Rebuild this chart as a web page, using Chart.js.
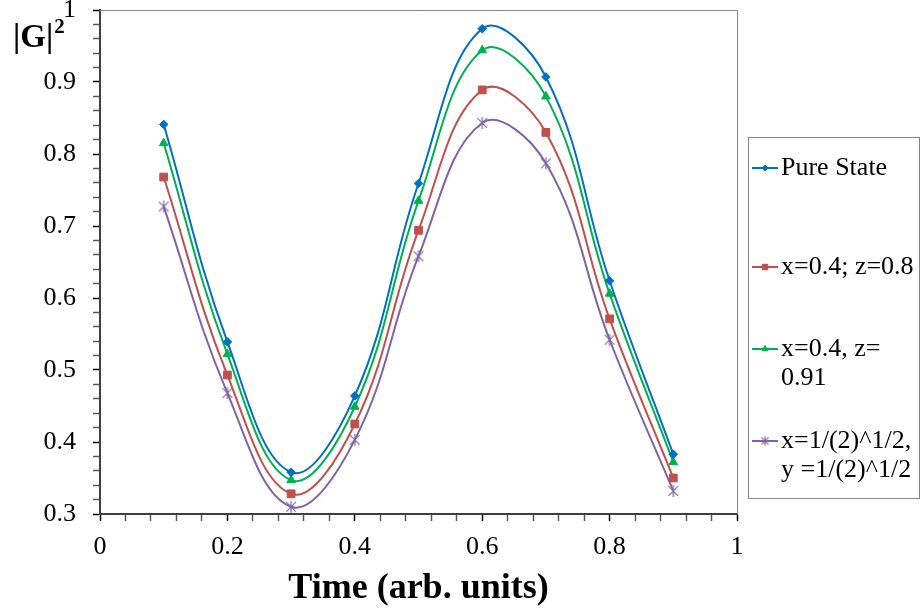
<!DOCTYPE html>
<html>
<head>
<meta charset="utf-8">
<script src="https://cdn.jsdelivr.net/npm/chart.js@4.4.1/dist/chart.umd.min.js"></script>
<style>
	html, body { margin: 0; padding: 0; background: #fff; }
	#wrap { position: relative; width: 922px; height: 612px; }
</style>
</head>
<body>
<div id="wrap"><canvas id="g_chart" width="922" height="612"></canvas></div>
<script>
// data
const time_list = [0.1, 0.2, 0.3, 0.4, 0.5, 0.6, 0.7, 0.8, 0.9];
const pure_list = [0.841, 0.539, 0.358, 0.464, 0.759, 0.974, 0.907, 0.624, 0.383];
const mixed_08_list = [0.768, 0.493, 0.328, 0.425, 0.694, 0.889, 0.830, 0.571, 0.350];
const mixed_091_list = [0.815, 0.522, 0.347, 0.449, 0.735, 0.944, 0.880, 0.606, 0.372];
const sqrt_half_list = [0.727, 0.468, 0.310, 0.403, 0.658, 0.843, 0.787, 0.542, 0.332];

const series_names = [
	["Pure State"],
	["x=0.4; z=0.8"],
	["x=0.4, z=", "0.91"],
	["x=1/(2)^1/2,", "y =1/(2)^1/2"],
];
const y_tick_labels = ["0.3", "0.4", "0.5", "0.6", "0.7", "0.8", "0.9", "1"];
const x_tick_labels = ["0", "0.2", "0.4", "0.6", "0.8", "1"];

const serif = "'Liberation Serif', 'Times New Roman', serif";

// excel style asterisk marker (x with a vertical bar)
function makeStar(size, color) {
	const c = document.createElement("canvas");
	c.width = size;
	c.height = size;
	const g = c.getContext("2d");
	const m = size / 2;
	const r = size / 2 - 1;
	g.strokeStyle = color;
	g.lineWidth = 1.2;
	g.beginPath();
	g.moveTo(m - r * 0.8, m - r * 0.8);
	g.lineTo(m + r * 0.8, m + r * 0.8);
	g.moveTo(m + r * 0.8, m - r * 0.8);
	g.lineTo(m - r * 0.8, m + r * 0.8);
	g.moveTo(m, m - r);
	g.lineTo(m, m + r);
	g.stroke();
	return c;
}
const star_big = makeStar(14, "#8064A2");
const star_small = makeStar(11, "#8064A2");

function toPoints(list) {
	return list.map((v, i) => ({ x: time_list[i], y: v }));
}

function makeSet(label, list, color, style, radius) {
	return {
		label: label,
		data: toPoints(list),
		borderColor: color,
		backgroundColor: color,
		borderWidth: 2,
		pointStyle: style,
		pointRadius: radius,
		pointBorderWidth: 1,
		pointBorderColor: color,
		pointBackgroundColor: color,
		tension: 0.4,
		fill: false,
	};
}

const datasets = [
	makeSet(series_names[0].join(" "), pure_list, "#0070C0", "rectRot", 4.3),
	makeSet(series_names[1].join(" "), mixed_08_list, "#C0504D", "rect", 5.5),
	makeSet(series_names[2].join(" "), mixed_091_list, "#00B050", "triangle", 5),
	makeSet(series_names[3].join(" "), sqrt_half_list, "#8064A2", star_big, 7),
];
const legend_styles = ["rectRot", "rect", "triangle", star_small];

function labelFor(list) {
	return function (value) {
		const s = String(Math.round(value * 100) / 100);
		return list.includes(s) ? s : "";
	};
}

function tickColorFor(list) {
	return function (c) {
		const s = String(Math.round(c.tick.value * 100) / 100);
		return list.includes(s) ? "#000" : "#595959";
	};
}

// frame, y title and legend box
const extrasPlugin = {
	id: "extras",
	beforeDatasetsDraw(chart) {
		const { ctx, chartArea } = chart;
		ctx.save();
		ctx.strokeStyle = "#868686";
		ctx.lineWidth = 1;
		ctx.beginPath();
		ctx.moveTo(chartArea.left, chartArea.top + 0.5);
		ctx.lineTo(chartArea.right + 0.5, chartArea.top + 0.5);
		ctx.lineTo(chartArea.right + 0.5, chartArea.bottom);
		ctx.stroke();
		ctx.restore();
	},
	afterDraw(chart) {
		const ctx = chart.ctx;
		ctx.save();
		ctx.fillStyle = "#000";
		ctx.textBaseline = "alphabetic";
		ctx.textAlign = "left";
		ctx.font = "bold 33px " + serif;
		ctx.fillText("|G|", 13, 47);
		const w = ctx.measureText("|G|").width;
		ctx.font = "bold 21px " + serif;
		ctx.fillText("2", 13 + w + 1, 33);

		// legend
		ctx.strokeStyle = "#868686";
		ctx.lineWidth = 1;
		ctx.strokeRect(748.5, 137.5, 171, 361);
		const rows = [168, 267, 349, 441];
		ctx.font = "26px " + serif;
		ctx.textBaseline = "middle";
		chart.data.datasets.forEach((ds, i) => {
			const y = rows[i];
			ctx.strokeStyle = ds.borderColor;
			ctx.fillStyle = ds.borderColor;
			ctx.lineWidth = 2;
			ctx.beginPath();
			ctx.moveTo(752, y);
			ctx.lineTo(778, y);
			ctx.stroke();
			ctx.lineWidth = 1;
			Chart.helpers.drawPoint(ctx, {
				pointStyle: legend_styles[i],
				radius: ds.pointRadius * 0.7,
				rotation: 0,
				borderWidth: 1,
			}, 765, y);
			ctx.fillStyle = "#000";
			series_names[i].forEach((line, j) => {
				ctx.fillText(line, 781, y + j * 29);
			});
		});
		ctx.restore();
	},
};

const ctx = document.getElementById("g_chart").getContext("2d");
let my_chart = new Chart(ctx, {
	type: "line",
	data: { datasets: datasets },
	options: {
		responsive: false,
		animation: false,
		devicePixelRatio: 1,
		layout: { padding: { top: 10, right: 185, left: 0, bottom: 0 } },
		plugins: {
			legend: { display: false },
			tooltip: { enabled: false },
		},
		scales: {
			x: {
				type: "linear",
				min: 0,
				max: 1,
				ticks: {
					stepSize: 0.04,
					autoSkip: false,
					maxRotation: 0,
					maxTicksLimit: 100,
					padding: 11,
					color: "#000",
					font: { family: serif, size: 26 },
					callback: labelFor(x_tick_labels),
				},
				grid: {
					drawOnChartArea: false,
					drawTicks: true,
					tickLength: 7,
					tickWidth: 1.5,
					tickColor: tickColorFor(x_tick_labels),
				},
				border: { color: "#404040", width: 2 },
				title: {
					display: true,
					text: "Time (arb. units)",
					color: "#000",
					font: { family: serif, size: 36, weight: "bold" },
					padding: { top: 0, bottom: 2 },
				},
				afterFit(scale) {
					scale.height = 98;
					scale.paddingLeft = 0;
					scale.paddingRight = 0;
				},
			},
			y: {
				min: 0.3,
				max: 1,
				ticks: {
					stepSize: 0.02,
					autoSkip: false,
					maxTicksLimit: 100,
					padding: 17,
					color: "#000",
					font: { family: serif, size: 26 },
					callback: labelFor(y_tick_labels),
				},
				grid: {
					drawOnChartArea: false,
					drawTicks: true,
					tickLength: 7,
					tickWidth: 1.5,
					tickColor: tickColorFor(y_tick_labels),
				},
				border: { color: "#404040", width: 2 },
				afterFit(scale) {
					scale.width = 100;
					scale.paddingTop = 0;
					scale.paddingBottom = 0;
				},
			},
		},
	},
	plugins: [extrasPlugin],
});
</script>
</body>
</html>
